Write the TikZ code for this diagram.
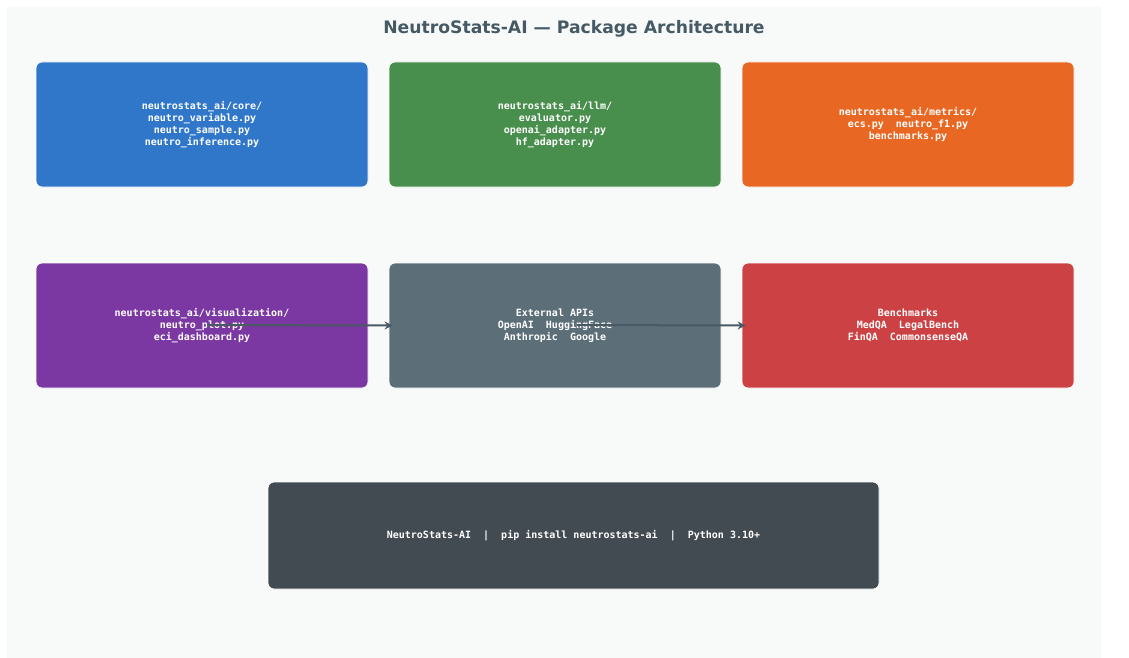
\documentclass[tikz,border=0pt]{standalone}
\usepackage{fontspec}
\setmainfont{DejaVu Sans}
\newfontfamily\monofont{DejaVu Sans Mono}
\usetikzlibrary{arrows.meta}
\definecolor{bgc}{HTML}{F8F9F9}
\definecolor{titlec}{HTML}{455A64}
\definecolor{cblue}{HTML}{3077C9}
\definecolor{cgreen}{HTML}{488E4C}
\definecolor{corange}{HTML}{E86722}
\definecolor{cpurple}{HTML}{7B38A2}
\definecolor{cslate}{HTML}{5C6E78}
\definecolor{cred}{HTML}{CC4244}
\definecolor{cdark}{HTML}{424A52}
\definecolor{arrc}{HTML}{4A5A64}
\tikzset{
  pkgbox/.style={draw=white, line width=0.8pt, rounded corners=6pt, inner sep=0pt,
    minimum width=332pt, minimum height=125pt, align=center, text=white,
    font=\monofont\bfseries\fontsize{10}{12}\selectfont},
  flowarrow/.style={draw=arrc, line width=2pt, -{Stealth[length=8pt,width=8pt]}}
}
\begin{document}
\begin{tikzpicture}[x=1pt,y=-1pt]
\useasboundingbox (0,0) rectangle (1129,658);
\fill[bgc] (7,7) rectangle (1101,658);
\node[font=\bfseries\fontsize{17.2}{20}\selectfont, text=titlec] (title) at (574,28.5) {NeutroStats-AI — Package Architecture};

\node[pkgbox, fill=cblue] (core) at (202,124.5) {neutrostats\_ai/core/\\neutro\_variable.py\\neutro\_sample.py\\neutro\_inference.py};
\node[pkgbox, fill=cgreen] (llm) at (555,124.5) {neutrostats\_ai/llm/\\evaluator.py\\openai\_adapter.py\\hf\_adapter.py};
\node[pkgbox, fill=corange] (metrics) at (908,124.5) {neutrostats\_ai/metrics/\\ecs.py~~neutro\_f1.py\\benchmarks.py};

\node[pkgbox, fill=cpurple] (viz) at (202,325.5) {neutrostats\_ai/visualization/\\neutro\_plot.py\\eci\_dashboard.py};
\node[pkgbox, fill=cslate] (ext) at (555,325.5) {External APIs\\OpenAI~~HuggingFace\\Anthropic~~Google};
\node[pkgbox, fill=cred] (bench) at (908,325.5) {Benchmarks\\MedQA~~LegalBench\\FinQA~~CommonsenseQA};

\node[pkgbox, fill=cdark, minimum width=611pt, minimum height=107pt] (footer) at (573.5,535.5) {NeutroStats-AI~~|~~pip install neutrostats-ai~~|~~Python 3.10+};

\coordinate (a1) at (207,325);
\coordinate (a2) at (577,325);
\draw[flowarrow, shorten >=-4pt] (a1) -- (ext.west);
\draw[flowarrow, shorten >=-4pt] (a2) -- (bench.west);
\end{tikzpicture}
\end{document}
